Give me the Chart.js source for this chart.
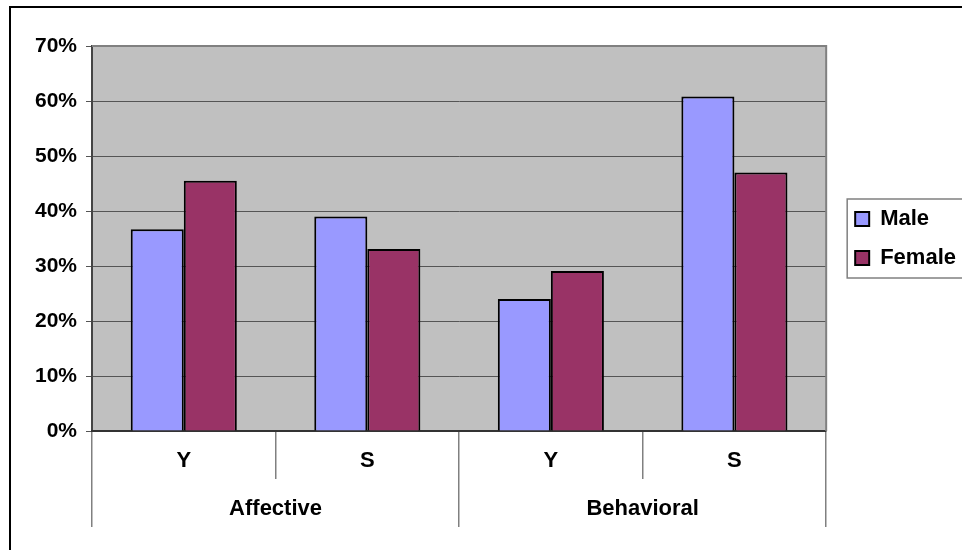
<!DOCTYPE html>
<html>
<head>
<meta charset="utf-8">
<script src="https://cdn.jsdelivr.net/npm/chart.js@4/dist/chart.umd.min.js"></script>
<style>
    body { margin: 0; background: #fff; overflow: hidden; }
    canvas { display: block; }
</style>
</head>
<body>
<canvas id="chart" width="962" height="550"></canvas>
<script>
var subCategories = ['Y', 'S', 'Y', 'S'];
var groups = ['Affective', 'Behavioral'];
var male = [36.7, 39.0, 24.0, 60.8];
var female = [45.5, 33.1, 29.1, 47.0];
var yTicks = [0, 10, 20, 30, 40, 50, 60, 70];

Chart.defaults.font.family = "'Liberation Sans', Arial, sans-serif";
Chart.defaults.font.size = 22;
Chart.defaults.font.weight = 'bold';
Chart.defaults.color = '#000';

// grey plot area, its border, the legend frame and the outer chart frame
var decorations = {
    id: 'decorations',
    beforeDraw: function (chart) {
        var ctx = chart.ctx, a = chart.chartArea;
        ctx.save();
        ctx.fillStyle = '#fff';
        ctx.fillRect(0, 0, chart.width, chart.height);
        ctx.fillStyle = '#c0c0c0';
        ctx.fillRect(a.left, a.top, a.right - a.left, a.bottom - a.top);
        ctx.restore();
    },
    afterDraw: function (chart) {
        var ctx = chart.ctx, a = chart.chartArea;
        ctx.save();
        ctx.strokeStyle = '#808080';
        ctx.lineWidth = 2;
        ctx.beginPath();
        ctx.moveTo(a.left, a.top);
        ctx.lineTo(a.right, a.top);
        ctx.lineTo(a.right, a.bottom);
        ctx.stroke();

        var boxes = chart.legend.legendHitBoxes;
        if (boxes.length) {
            var first = boxes[0], last = boxes[boxes.length - 1];
            ctx.lineWidth = 1.5;
            ctx.strokeRect(first.left - 8, first.top - 9, chart.width, last.top + last.height - first.top + 18);
        }

        ctx.strokeStyle = '#000';
        ctx.lineWidth = 2;
        ctx.strokeRect(10, 7, chart.width + 20, chart.height + 20);
        ctx.restore();
    }
};

new Chart(document.getElementById('chart'), {
    type: 'bar',
    data: {
        labels: subCategories,
        datasets: [
            {
                label: 'Male',
                data: male,
                backgroundColor: '#9999ff',
                borderColor: '#000',
                borderWidth: 2
            },
            {
                label: 'Female',
                data: female,
                backgroundColor: '#993366',
                borderColor: '#000',
                borderWidth: 2
            }
        ]
    },
    options: {
        responsive: false,
        animation: false,
        devicePixelRatio: 1,
        categoryPercentage: 0.578,
        barPercentage: 1.0,
        layout: { padding: { top: 46, bottom: 23, left: 0, right: -4 } },
        plugins: {
            tooltip: { enabled: false },
            legend: {
                position: 'right',
                fullSize: false,
                labels: {
                    boxWidth: 14,
                    boxHeight: 14,
                    padding: 17,
                    color: '#000',
                    font: { size: 22, weight: 'bold' }
                }
            }
        },
        scales: {
            y: {
                min: 0,
                max: 70,
                afterBuildTicks: function (scale) {
                    scale.ticks = yTicks.map(function (v) { return { value: v }; });
                },
                afterFit: function (scale) { scale.width = 92; },
                ticks: {
                    padding: 9,
                    font: { size: 21 },
                    callback: function (v) { return v + '%'; }
                },
                grid: { color: '#555', lineWidth: 1, tickLength: 6 },
                border: { color: '#444', width: 2 }
            },
            yRight: {
                position: 'right',
                min: 0,
                max: 70,
                ticks: { display: false },
                grid: { display: false },
                border: { display: false },
                afterFit: function (scale) { scale.width = 12; }
            },
            x: {
                weight: 0,
                offset: true,
                afterFit: function (scale) { scale.height = 48; },
                ticks: { padding: -31, maxRotation: 0, autoSkip: false },
                grid: { offset: true, drawOnChartArea: false, tickLength: 48, color: '#808080', lineWidth: 1.5 },
                border: { color: '#333', width: 2 }
            },
            x2: {
                type: 'category',
                position: 'bottom',
                weight: 1,
                labels: groups,
                offset: true,
                afterFit: function (scale) { scale.height = 48; },
                ticks: { padding: -31, maxRotation: 0, autoSkip: false },
                grid: { offset: true, drawOnChartArea: false, tickLength: 48, color: '#808080', lineWidth: 1.5 },
                border: { display: false }
            }
        }
    },
    plugins: [decorations]
});
</script>
</body>
</html>
